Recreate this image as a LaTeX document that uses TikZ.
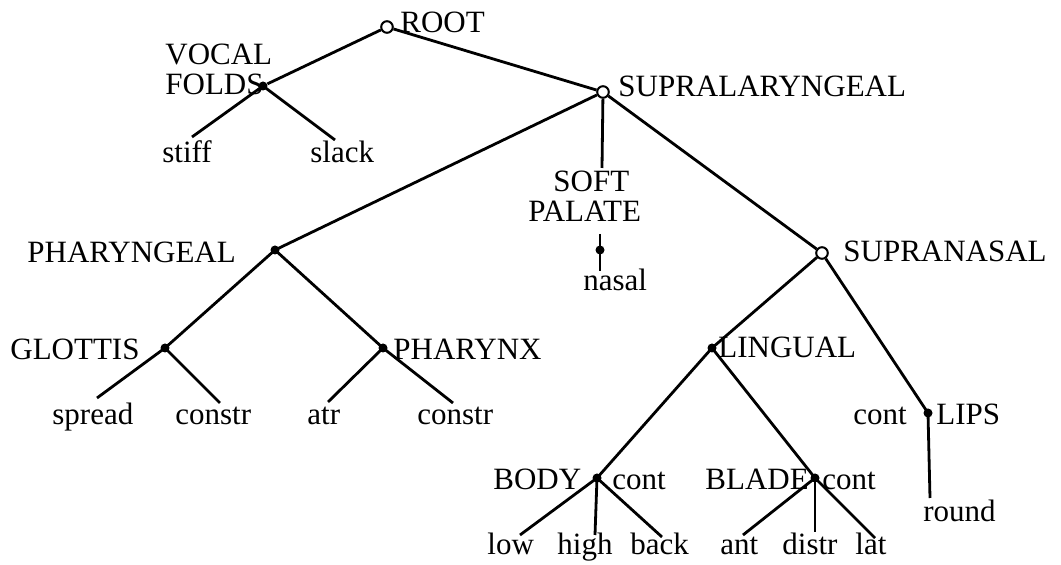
\documentclass[tikz,border=0pt]{standalone}
\usepackage{fontspec}
\setmainfont{Liberation Serif}
\begin{document}
\begin{tikzpicture}[x=0.5pt,y=-0.5pt,
  edge/.style={line width=1.4pt},
  dot/.style={circle, fill=black, inner sep=0pt, minimum size=4.5pt},
  ocirc/.style={circle, draw=black, fill=white, line width=1pt, inner sep=0pt, minimum size=5.8pt},
  lbl/.style={anchor=base west, inner sep=0pt, font=\fontsize{15.5}{18}\selectfont}]
\useasboundingbox (0,0) rectangle (1061,565);
% ---- nodes ----
\node[ocirc] (root) at (387,27) {};
\node[lbl] (rootL) at (400,33) {ROOT};
\node[dot] (vf) at (263,86) {};
\node[lbl] (vfL1) at (165,65) {VOCAL};
\node[lbl] (vfL2) at (165,95) {FOLDS};
\coordinate (stiffE) at (192,137);
\coordinate (slackE) at (335,140);
\node[lbl] (stiff) at (162,163) {stiff};
\node[lbl] (slack) at (310,163) {slack};
\node[ocirc] (supra) at (603,92) {};
\node[lbl] (supraL) at (618,97) {SUPRALARYNGEAL};
\coordinate (softE) at (602,168);
\node[lbl] (soft1) at (553,192) {SOFT};
\node[lbl] (soft2) at (528,222) {PALATE};
\node[dot] (sp) at (600,250) {};
\coordinate (spT) at (600,234);
\coordinate (spB) at (600,271);
\node[lbl] (nasal) at (583,291) {nasal};
\node[dot] (phg) at (275,250) {};
\node[lbl] (phgL) at (27,263) {PHARYNGEAL};
\node[ocirc] (supn) at (822,253) {};
\node[lbl] (supnL) at (843,262) {SUPRANASAL};
\node[dot] (glo) at (165,348) {};
\node[lbl] (gloL) at (10,360) {GLOTTIS};
\node[dot] (phx) at (383,348) {};
\node[lbl] (phxL) at (393,360) {PHARYNX};
\coordinate (spreadE) at (97,398);
\coordinate (constrAE) at (220,403);
\coordinate (atrE) at (328,402);
\coordinate (constrBE) at (453,403);
\node[lbl] (spread) at (52,425) {spread};
\node[lbl] (constrA) at (175,425) {constr};
\node[lbl] (atr) at (307,425) {atr};
\node[lbl] (constrB) at (417,425) {constr};
\node[dot] (ling) at (712,348) {};
\node[lbl] (lingL) at (718,358) {LINGUAL};
\node[dot] (lips) at (928,413) {};
\node[lbl] (lipsL) at (936,425) {LIPS};
\node[lbl] (lipsC) at (853,425) {cont};
\coordinate (roundE) at (930,498);
\node[lbl] (round) at (923,522) {round};
\node[dot] (body) at (597,478) {};
\node[lbl] (bodyL) at (493,490) {BODY};
\node[lbl] (bodyC) at (612,490) {cont};
\node[dot] (blade) at (815,478) {};
\node[lbl] (bladeL) at (705,490) {BLADE};
\node[lbl] (bladeC) at (822,490) {cont};
\coordinate (lowE) at (520,535);
\coordinate (highE) at (595,535);
\coordinate (backE) at (662,537);
\coordinate (antE) at (743,535);
\coordinate (distrE) at (815,532);
\coordinate (latE) at (875,538);
\node[lbl] (low) at (487,555) {low};
\node[lbl] (high) at (557,555) {high};
\node[lbl] (back) at (630,555) {back};
\node[lbl] (ant) at (720,555) {ant};
\node[lbl] (distr) at (782,555) {distr};
\node[lbl] (lat) at (855,555) {lat};
% ---- edges ----
\draw[edge] (root) -- (vf);
\draw[edge] (root) -- (supra);
\draw[edge] (vf.center) -- (stiffE);
\draw[edge] (vf.center) -- (slackE);
\draw[edge] (supra) -- (softE);
\draw[edge] (spT) -- (spB);
\draw[edge] (supra) -- (phg.center);
\draw[edge] (supra) -- (supn);
\draw[edge] (phg.center) -- (glo.center);
\draw[edge] (phg.center) -- (phx.center);
\draw[edge] (glo.center) -- (spreadE);
\draw[edge] (glo.center) -- (constrAE);
\draw[edge] (phx.center) -- (atrE);
\draw[edge] (phx.center) -- (constrBE);
\draw[edge] (supn) -- (ling.center);
\draw[edge] (supn) -- (lips.center);
\draw[edge] (lips.center) -- (roundE);
\draw[edge] (ling.center) -- (body.center);
\draw[edge] (ling.center) -- (blade.center);
\draw[edge] (body.center) -- (lowE);
\draw[edge] (body.center) -- (highE);
\draw[edge] (body.center) -- (backE);
\draw[edge] (blade.center) -- (antE);
\draw[edge] (blade.center) -- (distrE);
\draw[edge] (blade.center) -- (latE);
\end{tikzpicture}
\end{document}
